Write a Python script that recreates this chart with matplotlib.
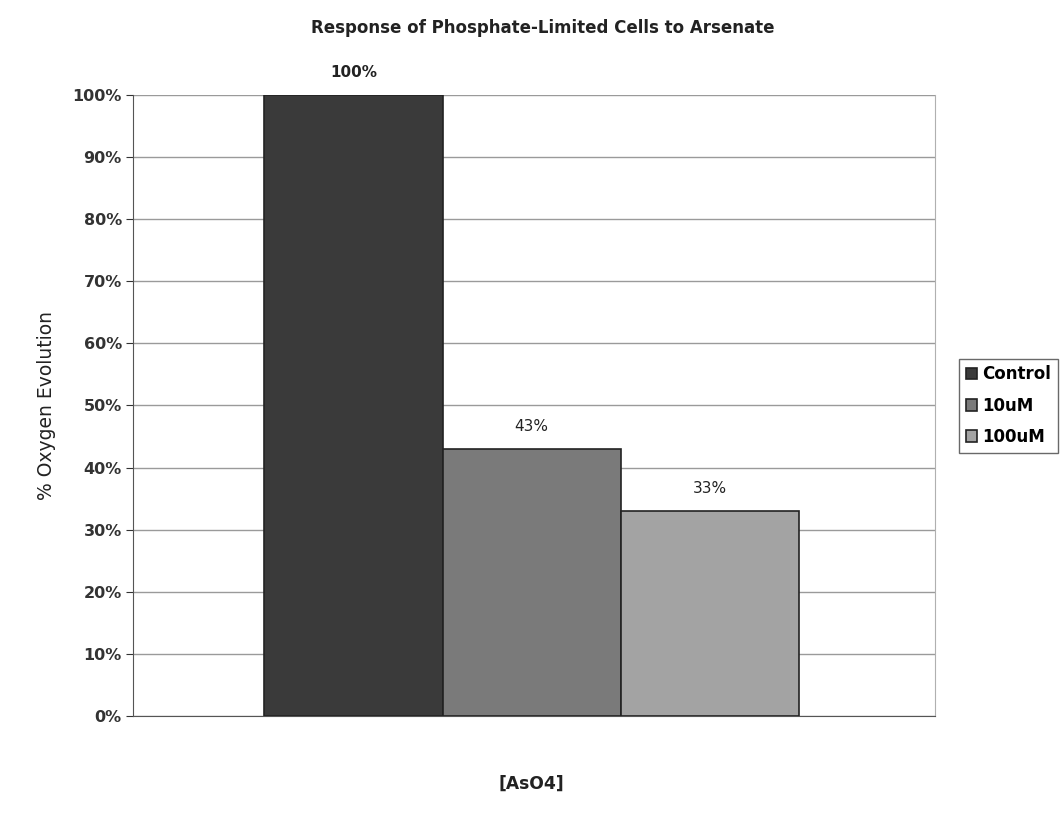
import matplotlib.pyplot as plt
from matplotlib.ticker import PercentFormatter

series = ['Control', '10uM', '100uM']
values = [100, 43, 33]
colors = ['#3a3a3a', '#7a7a7a', '#a3a3a3']
value_labels = ['100%', '43%', '33%']
label_weights = ['bold', 'normal', 'normal']
yticks = [0, 10, 20, 30, 40, 50, 60, 70, 80, 90, 100]

fig = plt.figure(figsize=(10.62, 8.18), dpi=100)
ax = fig.add_axes([0.1252, 0.1247, 0.7552, 0.7592])

width = 0.222
offsets = [-width, 0, width]
center = 0.497
for name, v, c, off, lab, w in zip(series, values, colors, offsets, value_labels, label_weights):
    ax.bar(center + off, v, width=width, color=c, edgecolor='#222222', linewidth=1.2,
           label=name, zorder=3)
    ax.text(center + off, v + 3.6, lab, ha='center', va='center', fontsize=11,
            fontweight=w, color='#222222')

ax.set_xlim(0, 1)
ax.set_ylim(0, 100)
ax.set_yticks(yticks)
ax.yaxis.set_major_formatter(PercentFormatter(decimals=0))
ax.set_xticks([])
ax.grid(axis='y', color='#9a9a9a', linewidth=1.0, zorder=0)
ax.spines['top'].set_visible(False)
ax.spines['right'].set_color('#b0b0b0')
ax.spines['left'].set_color('#555555')
ax.spines['bottom'].set_color('#555555')
ax.tick_params(axis='y', direction='out', length=5, labelsize=11.5, colors='#333333', pad=3)
for t in ax.get_yticklabels():
    t.set_fontweight('bold')

ax.set_ylabel('% Oxygen Evolution', fontsize=13.5, color='#222222', labelpad=12)
fig.text(0.5, 0.042, '[AsO4]', ha='center', va='center', fontsize=12.3, fontweight='bold', color='#222222')
fig.text(0.511, 0.966, 'Response of Phosphate-Limited Cells to Arsenate', ha='center', va='center',
         fontsize=12, fontweight='bold', color='#222222')

leg = fig.legend(loc='center left', bbox_to_anchor=(0.903, 0.504),
                 frameon=True, fancybox=False, edgecolor='#444444', handlelength=0.7,
                 handleheight=0.7, handletextpad=0.3, borderpad=0.4, labelspacing=0.8,
                 borderaxespad=0, prop={'weight': 'bold', 'size': 12})

plt.savefig('out.png', dpi=100)
